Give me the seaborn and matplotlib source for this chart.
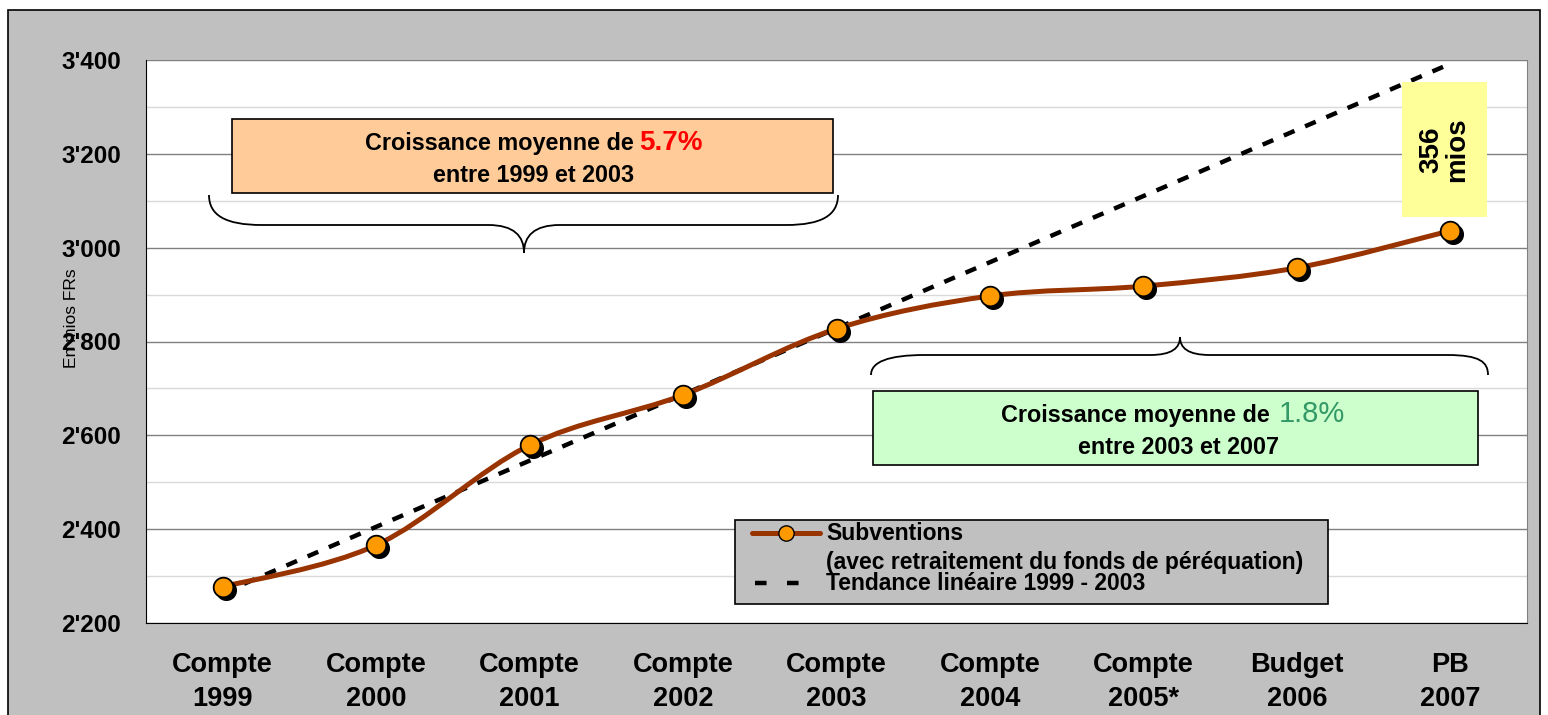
import numpy as np
import pandas as pd
import seaborn as sns
import matplotlib.pyplot as plt
import matplotlib.transforms as mtransforms
from matplotlib.path import Path
from matplotlib.patches import PathPatch, Rectangle
from matplotlib.lines import Line2D
from matplotlib.ticker import MultipleLocator, FuncFormatter

# données (mios FRs)
categories = ['Compte\n1999', 'Compte\n2000', 'Compte\n2001', 'Compte\n2002', 'Compte\n2003',
              'Compte\n2004', 'Compte\n2005*', 'Budget\n2006', 'PB\n2007']
subventions = [2277, 2366, 2579, 2686, 2827, 2897, 2918, 2957, 3036]
tendance = [2264, 2405, 2546, 2687, 2828, 2969, 3110, 3251, 3392]
y_ticks = [2200, 2400, 2600, 2800, 3000, 3200, 3400]

W, H = 1548, 715
BROWN = '#993300'
ORANGE = '#FF9900'
GRIS = '#C0C0C0'
FS = 16.8  # texte des encadrés


def smooth_path(xs, ys):
    # courbe lissée type Excel (Catmull-Rom -> Bezier)
    pts = np.column_stack([xs, ys]).astype(float)
    verts = [pts[0]]
    codes = [Path.MOVETO]
    n = len(pts)
    for i in range(n - 1):
        p0 = pts[i - 1] if i > 0 else pts[i]
        p1, p2 = pts[i], pts[i + 1]
        p3 = pts[i + 2] if i + 2 < n else pts[i + 1]
        c1 = p1 + (p2 - p0) / 6
        c2 = p2 - (p3 - p1) / 6
        verts += [c1, c2, p2]
        codes += [Path.CURVE4] * 3
    return Path(verts, codes)


def brace(px, pts):
    codes = [Path.MOVETO] + [Path.CURVE4] * 3 + [Path.LINETO] + [Path.CURVE4] * 6 + \
            [Path.LINETO] + [Path.CURVE4] * 3
    return PathPatch(Path(pts, codes), transform=px, facecolor='none',
                     edgecolor='black', lw=1.3, clip_on=False, zorder=6)


def main():
    sns.set_style('white')
    plt.rcParams['font.family'] = ['Liberation Sans', 'DejaVu Sans']
    plt.rcParams['text.color'] = 'black'
    plt.rcParams['xtick.color'] = 'black'
    plt.rcParams['ytick.color'] = 'black'

    df = pd.DataFrame({'cat': categories, 'x': np.arange(len(categories)),
                       'subventions': subventions, 'tendance': tendance})

    fig = plt.figure(figsize=(W / 100, H / 100), dpi=100, facecolor='white')
    px = mtransforms.Affine2D().scale(1 / W, -1 / H).translate(0, 1) + fig.transFigure

    # fond gris avec cadre
    fig.patches.append(Rectangle((8, 10), 1532, 720, transform=px, facecolor=GRIS,
                                 edgecolor='black', lw=1.2, zorder=-10))

    ax = fig.add_axes([146 / W, 1 - 623 / H, (1527 - 146) / W, (623 - 60) / H])
    ax.set_facecolor('white')

    # tendance linéaire
    sns.lineplot(data=df, x='x', y='tendance', ax=ax, color='black', lw=3.2,
                 zorder=3, legend=False)
    ax.lines[-1].set_dashes((2.6, 2.6))

    # courbe lissée des subventions
    ax.add_patch(PathPatch(smooth_path(df['x'], df['subventions']), facecolor='none',
                           edgecolor=BROWN, lw=3.6, zorder=4, capstyle='round'))
    # ombre des marqueurs
    shadow = mtransforms.offset_copy(ax.transData, fig=fig, x=3, y=-3, units='dots')
    ax.scatter(df['x'], df['subventions'], s=200, color='black', transform=shadow, zorder=5)
    sns.scatterplot(data=df, x='x', y='subventions', ax=ax, s=200, color=ORANGE,
                    edgecolor='black', linewidth=1.3, zorder=6, legend=False)

    # axes
    ax.set_xlim(-0.5, len(categories) - 0.5)
    ax.set_ylim(2200, 3400)
    ax.set_xticks(np.arange(len(categories)))
    ax.set_xticklabels(categories, fontsize=19.5, fontweight='bold', linespacing=1.4)
    ax.set_xticks(np.arange(len(categories) + 1) - 0.5, minor=True)
    ax.tick_params(axis='x', which='major', length=0, pad=21)
    ax.tick_params(axis='x', which='minor', length=9, width=1, color='black', direction='out')
    ax.set_yticks(y_ticks)
    ax.yaxis.set_major_formatter(FuncFormatter(lambda v, p: f"{int(v) // 1000}'{int(v) % 1000:03d}"))
    ax.yaxis.set_minor_locator(MultipleLocator(100))
    ax.tick_params(axis='y', which='major', length=10, width=1, color='black',
                   direction='out', labelsize=17.5, pad=8)
    ax.tick_params(axis='y', which='minor', length=0)
    for lab in ax.get_yticklabels():
        lab.set_fontweight('bold')
    ax.grid(True, which='major', axis='y', color='#808080', lw=1)
    ax.grid(True, which='minor', axis='y', color='#D9D9D9', lw=1)
    ax.set_axisbelow(True)
    ax.set_xlabel('')
    ax.set_ylabel('')
    ax.spines['top'].set_visible(False)
    ax.spines['right'].set_color('#808080')
    ax.spines['left'].set_color('black')
    ax.spines['bottom'].set_color('black')

    fig.text(72, 318, 'En mios FRs', transform=px, rotation=90, fontsize=12.5,
             ha='center', va='center')

    # encadré orange 1999-2003
    fig.patches.append(Rectangle((232, 119), 601, 74, transform=px, facecolor='#FFCC99',
                                 edgecolor='black', lw=1.2, zorder=5))
    fig.text(634, 150, 'Croissance moyenne de', transform=px, fontsize=FS,
             fontweight='bold', ha='right', va='baseline', zorder=7)
    fig.text(639, 150, '5.7%', transform=px, fontsize=20, fontweight='bold',
             color='#FF0000', ha='left', va='baseline', zorder=7)
    fig.text(534, 182, 'entre 1999 et 2003', transform=px, fontsize=FS,
             fontweight='bold', ha='center', va='baseline', zorder=7)
    fig.patches.append(brace(px, [(209, 195), (209, 215), (225, 225), (262, 225),
                                  (488, 225), (514, 225), (524, 236), (524, 253),
                                  (524, 236), (534, 225), (560, 225), (786, 225),
                                  (822, 225), (838, 215), (838, 195)]))

    # encadré vert 2003-2007
    fig.patches.append(Rectangle((873, 391), 605, 74, transform=px, facecolor='#CCFFCC',
                                 edgecolor='black', lw=1.2, zorder=5))
    fig.text(1270, 422, 'Croissance moyenne de', transform=px, fontsize=FS,
             fontweight='bold', ha='right', va='baseline', zorder=7)
    fig.text(1279, 422, '1.8%', transform=px, fontsize=21, color='#339966',
             ha='left', va='baseline', zorder=7)
    fig.text(1178, 454, 'entre 2003 et 2007', transform=px, fontsize=FS,
             fontweight='bold', ha='center', va='baseline', zorder=7)
    fig.patches.append(brace(px, [(871, 375), (871, 362), (888, 355), (925, 355),
                                  (1150, 355), (1172, 355), (1180, 348), (1180, 337),
                                  (1180, 348), (1188, 355), (1210, 355), (1447, 355),
                                  (1480, 355), (1488, 362), (1488, 375)]))

    # écart 2007
    fig.patches.append(Rectangle((1402, 82), 85, 135, transform=px, facecolor='#FFFF99',
                                 edgecolor='none', zorder=5))
    fig.text(1444, 150, '356\nmios', transform=px, rotation=90, fontsize=20,
             fontweight='bold', ha='center', va='center', linespacing=1.0, zorder=7)

    # légende
    fig.patches.append(Rectangle((735, 520), 593, 84, transform=px, facecolor=GRIS,
                                 edgecolor='black', lw=1.2, zorder=5))
    fig.lines.append(Line2D([752, 820], [533, 533], transform=px, color=BROWN, lw=3.6,
                            zorder=6))
    fig.lines.append(Line2D([786], [533], transform=px, marker='o', markersize=11,
                            markerfacecolor=ORANGE, markeredgecolor='black', zorder=7))
    fig.lines.append(Line2D([755, 800], [583, 583], transform=px, color='black', lw=3.2,
                            dashes=(2.6, 4.6), zorder=6))
    fig.text(826, 533, 'Subventions', transform=px, fontsize=16.5, fontweight='bold',
             ha='left', va='center', zorder=7)
    fig.text(826, 563, '(avec retraitement du fonds de péréquation)', transform=px,
             fontsize=16.5, fontweight='bold', ha='left', va='center', zorder=7)
    fig.text(826, 584, 'Tendance linéaire 1999 - 2003', transform=px, fontsize=16.5,
             fontweight='bold', ha='left', va='center', zorder=7)

    fig.savefig('out.png', dpi=100, facecolor=fig.get_facecolor())


if __name__ == '__main__':
    main()
